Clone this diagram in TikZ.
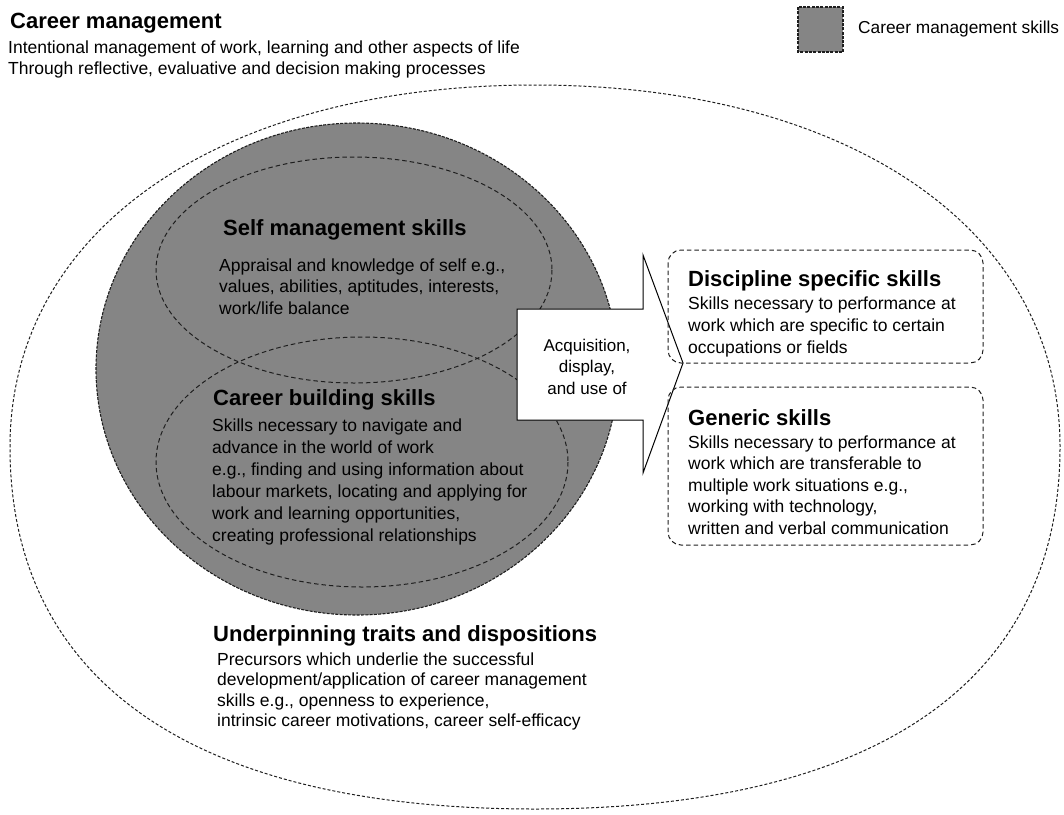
\documentclass[tikz,border=0pt]{standalone}
\usepackage{fontspec}
\setmainfont{Liberation Sans}
\definecolor{cmsgray}{RGB}{133,133,133}
\definecolor{lineblack}{RGB}{30,30,30}
\tikzset{
  bodytext/.style={font=\fontsize{17.5}{21.5}\selectfont, align=left, anchor=base west, inner sep=0pt},
  headtext/.style={font=\fontsize{22}{26}\selectfont\bfseries, anchor=base west, inner sep=0pt},
  outerdash/.style={draw=lineblack, line width=1pt, dash pattern=on 3pt off 2pt},
  inndash/.style={draw=lineblack, line width=1pt, dash pattern=on 4.5pt off 3pt},
  graydash/.style={draw=lineblack, line width=1.1pt, dash pattern=on 3pt off 1.3pt, fill=cmsgray},
  boxdash/.style={draw=lineblack, line width=1pt, dash pattern=on 4.5pt off 3pt, rounded corners=13pt},
  arrowshape/.style={draw=black, line width=1pt, fill=white, line join=miter}
}
\begin{document}
\begin{tikzpicture}[x=1pt,y=-1pt]
\useasboundingbox (0,0) rectangle (1064,814);

% outer boundary (career management)
\draw[outerdash] (10,447) .. controls (10,230) and (220,85) .. (535,85)
  .. controls (850,85) and (1060,230) .. (1060,447)
  .. controls (1060,682) and (876,809) .. (535,809)
  .. controls (194,809) and (10,682) .. cycle;

% career management skills (gray)
\coordinate (cms) at (357,369);
\draw[graydash] (cms) ellipse (261 and 246);

% self management and career building ellipses
\coordinate (selfc) at (354,270);
\coordinate (buildc) at (362,462);
\draw[inndash] (selfc) ellipse (198 and 113);
\draw[inndash] (buildc) ellipse (206 and 125);

% arrow
\coordinate (a1) at (517,309);
\coordinate (a2) at (643,309);
\coordinate (a3) at (643,255);
\coordinate (a4) at (683,363);
\coordinate (a5) at (643,473);
\coordinate (a6) at (643,420);
\coordinate (a7) at (517,420);
\draw[arrowshape] (a1) -- (a2) -- (a3) -- (a4) -- (a5) -- (a6) -- (a7) -- cycle;
\node[font=\fontsize{17}{21.5}\selectfont, align=center, anchor=base, inner sep=0pt] (acq) at (587,394) {Acquisition,\\display,\\and use of};

% right boxes
\draw[boxdash] (668,250) rectangle (983,363);
\draw[boxdash] (668,387) rectangle (983,545);

% legend
\draw[graydash] (798,7) rectangle (843,52);
\node[bodytext, font=\fontsize{17.3}{21}\selectfont] (legend) at (858,33) {Career management skills};

% header
\node[headtext] (cmtitle) at (10,28) {Career management};
\node[bodytext] (cmtext) at (8,74.5) {Intentional management of work, learning and other aspects of life\\Through reflective, evaluative and decision making processes};

% self management
\node[headtext] (selftitle) at (223,235) {Self management skills};
\node[bodytext] (selftext) at (219,314) {Appraisal and knowledge of self e.g.,\\values, abilities, aptitudes, interests,\\work/life balance};

% career building
\node[headtext] (buildtitle) at (213,405) {Career building skills};
\node[bodytext, font=\fontsize{17.5}{22}\selectfont] (buildtext) at (212,541) {Skills necessary to navigate and\\advance in the world of work\\e.g., finding and using information about\\labour markets, locating and applying for\\work and learning opportunities,\\creating professional relationships};

% discipline specific
\node[headtext] (disctitle) at (688,286) {Discipline specific skills};
\node[bodytext, font=\fontsize{17.5}{22}\selectfont] (disctext) at (688,353) {Skills necessary to performance at\\work which are specific to certain\\occupations or fields};

% generic
\node[headtext] (gentitle) at (688,425) {Generic skills};
\node[bodytext] (gentext) at (688,534) {Skills necessary to performance at\\work which are transferable to\\multiple work situations e.g.,\\working with technology,\\written and verbal communication};

% underpinning
\node[headtext] (undtitle) at (213,641) {Underpinning traits and dispositions};
\node[bodytext, font=\fontsize{17.5}{20.5}\selectfont] (undtext) at (217,726.5) {Precursors which underlie the successful\\development/application of career management\\skills e.g., openness to experience,\\intrinsic career motivations, career self-efficacy};
\end{tikzpicture}
\end{document}
